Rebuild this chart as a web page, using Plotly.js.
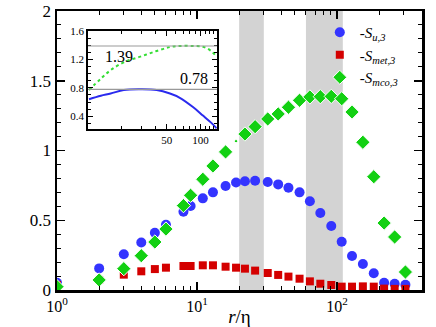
<!DOCTYPE html>
<html>
<head>
<meta charset="utf-8">
<script src="https://cdn.plot.ly/plotly-3.0.1.min.js"></script>
<style>
  body { margin: 0; background: #fff; }
  #chart { width: 436px; height: 327px; }
</style>
</head>
<body>
<div id="chart"></div>
<script>
// r/eta separations
var rEta = [1, 2, 3, 4, 5, 6, 8, 9, 11, 13, 16, 19, 22, 26, 32, 38, 45, 54, 64, 76, 91, 108, 128, 153, 183, 217, 258, 308];

var Su3 = [0.052, 0.155, 0.256, 0.34, 0.41, 0.468, 0.561, 0.602, 0.657, 0.70, 0.745, 0.77, 0.78, 0.783,
  0.774, 0.757, 0.733, 0.70, 0.636, 0.552, 0.459, 0.346, 0.244, 0.186, 0.12, 0.052, 0.045, 0.038];
var Smet3 = [0.036, 0.072, 0.11, 0.134, 0.15, 0.16, 0.172, 0.172, 0.177, 0.177, 0.167, 0.16, 0.153, 0.139,
  0.122, 0.108, 0.096, 0.081, 0.062, 0.045, 0.036, 0.024, 0.024, 0.026, 0.024, 0.01, 0.008, 0.008];
var Smco3 = [0.024, 0.072, 0.153, 0.246, 0.344, 0.437, 0.605, 0.679, 0.794, 0.889, 0.99, 1.067, 1.118, 1.171,
  1.226, 1.262, 1.31, 1.36, 1.384, 1.386, 1.388, 1.371, 1.276, 1.059, 0.812, 0.48, 0.38, 0.129];

// inset: smoothed curves
var insetX = [10.2, 13, 15.9, 20.8, 29.2, 40.8, 53.5, 65.4, 85.6, 105, 124, 139];
var insetMco = [0.77, 0.93, 1.05, 1.16, 1.24, 1.32, 1.375, 1.39, 1.39, 1.38, 1.32, 1.24];
var insetU = [0.64, 0.69, 0.72, 0.77, 0.78, 0.77, 0.72, 0.66, 0.53, 0.41, 0.31, 0.23];
var insetLevels = [1.39, 0.78];

// shaded ranges
var bands = [[20, 30], [60, 110]];

var serif = "Liberation Serif, Times New Roman, serif";

var traces = [
  {
    x: rEta, y: Su3, type: "scatter", mode: "markers",
    name: "-<i>S</i><sub><i>u,3</i></sub>",
    marker: { symbol: "circle", color: "#3434ff", size: 10, opacity: 1 }
  },
  {
    x: rEta, y: Smet3, type: "scatter", mode: "markers",
    name: "-<i>S</i><sub><i>met,3</i></sub>",
    marker: { symbol: "square", color: "#d40000", size: 8, opacity: 1 }
  },
  {
    x: rEta, y: Smco3, type: "scatter", mode: "markers",
    name: "-<i>S</i><sub><i>mco,3</i></sub>",
    marker: {
      symbol: "diamond", color: "#12d012", opacity: 1,
      size: rEta.map(function (r) { return r === 19 ? 3 : 11; })
    }
  },
  {
    x: insetX, y: insetMco, type: "scatter", mode: "lines",
    xaxis: "x2", yaxis: "y2", showlegend: false,
    line: { color: "#33dd33", width: 2, dash: "dot", shape: "spline" }
  },
  {
    x: insetX, y: insetU, type: "scatter", mode: "lines",
    xaxis: "x2", yaxis: "y2", showlegend: false,
    line: { color: "#2a2aee", width: 2, shape: "spline" }
  }
];

var shapes = bands.map(function (b) {
  return {
    type: "rect", xref: "x", yref: "paper", x0: b[0], x1: b[1], y0: 0, y1: 1,
    fillcolor: "#d3d3d3", line: { width: 0 }, layer: "below"
  };
});
// white background under the inset
shapes.push({
  type: "rect", xref: "x2 domain", yref: "y2 domain", x0: 0, x1: 1, y0: 0, y1: 1,
  fillcolor: "#fff", line: { width: 0 }, layer: "below"
});
insetLevels.forEach(function (v) {
  shapes.push({
    type: "line", xref: "x2 domain", yref: "y2", x0: 0, x1: 1, y0: v, y1: v,
    line: { color: "#999", width: 1.2 }
  });
});

var minorMain = [2, 3, 4, 5, 6, 7, 8, 9, 20, 30, 40, 50, 60, 70, 80, 90, 200, 300, 400];

var layout = {
  width: 436,
  height: 327,
  margin: { l: 57, r: 14, t: 11, b: 37 },
  paper_bgcolor: "#fff",
  plot_bgcolor: "#fff",
  font: { family: serif, color: "#000", size: 16 },
  showlegend: true,
  legend: {
    x: 0.72, y: 0.982, xanchor: "left", yanchor: "top",
    bgcolor: "rgba(0,0,0,0)", font: { family: serif, size: 15 },
    tracegroupgap: 0, itemwidth: 30
  },
  xaxis: {
    type: "log", range: [0, 2.607],
    showgrid: false, zeroline: false,
    showline: true, linecolor: "#000", linewidth: 2.5, mirror: "allticks",
    ticks: "inside", ticklen: 8, tickwidth: 1.5, tickcolor: "#000",
    tickmode: "array", tickvals: [1, 10, 100],
    ticktext: ["10<sup>0</sup>", "10<sup>1</sup>", "10<sup>2</sup>"],
    tickfont: { family: serif, size: 16 },
    minor: { tickmode: "array", tickvals: minorMain, ticks: "inside", ticklen: 4, tickwidth: 1, tickcolor: "#000" },
    title: { text: "<i>r</i>/η", font: { family: serif, size: 19 }, standoff: 6 }
  },
  yaxis: {
    range: [0, 2],
    showgrid: false, zeroline: false,
    showline: true, linecolor: "#000", linewidth: 2.5, mirror: "allticks",
    ticks: "inside", ticklen: 8, tickwidth: 1.5, tickcolor: "#000",
    tickmode: "array", tickvals: [0, 0.5, 1, 1.5, 2], ticktext: ["0", "0.5", "1", "1.5", "2"],
    tickfont: { family: serif, size: 17 },
    minor: { dtick: 0.1, ticks: "inside", ticklen: 4, tickwidth: 1, tickcolor: "#000" }
  },
  xaxis2: {
    type: "log", range: [1.0, 2.145], domain: [0.085, 0.438], anchor: "y2",
    showgrid: false, zeroline: false,
    showline: true, linecolor: "#000", linewidth: 1.8, mirror: "allticks",
    ticks: "inside", ticklen: 5, tickwidth: 1, tickcolor: "#000",
    tickmode: "array", tickvals: [50, 100], ticktext: ["50", "100"],
    tickfont: { family: serif, size: 11 },
    minor: {
      tickmode: "array", tickvals: [20, 30, 40, 60, 70, 80, 90, 110, 120, 130],
      ticks: "inside", ticklen: 3, tickwidth: 1, tickcolor: "#000"
    }
  },
  yaxis2: {
    range: [0.22, 1.6], domain: [0.577, 0.928], anchor: "x2",
    showgrid: false, zeroline: false,
    showline: true, linecolor: "#000", linewidth: 1.8, mirror: "allticks",
    ticks: "inside", ticklen: 5, tickwidth: 1, tickcolor: "#000",
    tickmode: "array", tickvals: [0.4, 0.8, 1.2, 1.6], ticktext: ["0.4", "0.8", "1.2", "1.6"],
    tickfont: { family: serif, size: 11 },
    minor: { dtick: 0.1, ticks: "inside", ticklen: 3, tickwidth: 1, tickcolor: "#000" }
  },
  shapes: shapes,
  annotations: [
    {
      xref: "x2", yref: "y2", x: 1.129, y: insetLevels[0], text: String(insetLevels[0]),
      xanchor: "left", yanchor: "top", showarrow: false,
      font: { family: serif, size: 16 }
    },
    {
      xref: "x2", yref: "y2", x: 2.085, y: insetLevels[1], text: String(insetLevels[1]),
      xanchor: "right", yanchor: "bottom", showarrow: false,
      font: { family: serif, size: 16 }
    }
  ]
};

Plotly.newPlot("chart", traces, layout, { displayModeBar: false, staticPlot: true });
</script>
</body>
</html>
